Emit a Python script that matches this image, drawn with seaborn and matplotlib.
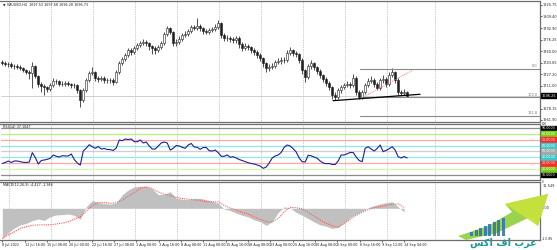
import numpy as np
import matplotlib
matplotlib.use("Agg")
import matplotlib.pyplot as plt
import seaborn as sns
from matplotlib.patches import Polygon, Rectangle

# ---------------- data ----------------
chart_title = "\u25bc XAUUSD,H4  1697.53 1697.68 1696.28 1696.73"
rsi_title = "RSI(14) 37.1047"
macd_title = "MACD(12,26,9) -4.427 -1.946"

first_open = 1745.0
close = [1743.1, 1741.7, 1741.7, 1738.8, 1738.8, 1737.4, 1736.0, 1733.1, 1730.3, 1728.9,
         1738.8, 1724.6, 1713.2, 1710.3, 1708.9, 1706.1, 1711.8, 1717.4, 1717.4, 1713.2,
         1713.2, 1714.6, 1713.2, 1711.8, 1711.8, 1704.6, 1690.4, 1704.6, 1718.9, 1728.9,
         1730.3, 1721.7, 1720.3, 1721.7, 1718.9, 1718.9, 1718.9, 1716.0, 1730.3, 1743.1,
         1748.8, 1754.5, 1761.6, 1758.8, 1764.5, 1768.7, 1771.6, 1773.0, 1771.6, 1767.3,
         1764.5, 1761.6, 1765.9, 1771.6, 1784.4, 1793.0, 1787.3, 1771.6, 1773.0, 1777.3,
         1783.0, 1784.4, 1788.7, 1794.4, 1793.0, 1795.8, 1793.0, 1788.7, 1787.3, 1790.1,
         1791.5, 1794.4, 1800.1, 1783.0, 1778.7, 1778.7, 1777.3, 1775.9, 1778.7, 1770.2,
         1764.5, 1767.3, 1765.9, 1761.6, 1758.8, 1754.5, 1750.2, 1743.1, 1736.0, 1737.4,
         1738.8, 1744.5, 1745.9, 1747.4, 1747.4, 1757.3, 1761.6, 1757.3, 1755.9, 1747.4,
         1733.1, 1723.1, 1738.8, 1743.1, 1737.4, 1731.7, 1726.0, 1720.3, 1714.6, 1708.9,
         1697.5, 1694.6, 1704.6, 1708.9, 1711.8, 1713.2, 1711.8, 1721.7, 1701.8, 1694.6,
         1701.8, 1711.8, 1717.4, 1718.9, 1713.2, 1707.5, 1718.9, 1720.3, 1713.2, 1726.0,
         1730.3, 1718.9, 1701.8, 1700.4, 1701.8, 1696.5]
high = [1748, 1746, 1745, 1744, 1742, 1741, 1740, 1738, 1735, 1733,
        1745, 1740, 1726, 1716, 1713, 1711, 1714, 1721, 1720, 1719,
        1717, 1718, 1717, 1715, 1714, 1713, 1706, 1707, 1721, 1732,
        1738, 1732, 1725, 1725, 1724, 1722, 1722, 1721, 1733, 1746,
        1752, 1758, 1765, 1764, 1768, 1772, 1775, 1777, 1776, 1773,
        1769, 1767, 1769, 1775, 1787, 1796, 1795, 1789, 1777, 1781,
        1786, 1788, 1792, 1797, 1797, 1807, 1799, 1795, 1792, 1793,
        1795, 1798, 1804, 1802, 1786, 1783, 1782, 1780, 1782, 1781,
        1773, 1771, 1770, 1768, 1764, 1761, 1757, 1752, 1745, 1742,
        1743, 1748, 1750, 1751, 1751, 1762, 1766, 1763, 1760, 1758,
        1750, 1735, 1742, 1747, 1745, 1739, 1734, 1728, 1723, 1717,
        1711, 1702, 1708, 1712, 1715, 1717, 1716, 1727, 1724, 1704,
        1705, 1715, 1721, 1724, 1721, 1716, 1722, 1726, 1723, 1730,
        1736, 1732, 1721, 1705, 1706, 1703]
low = [1740, 1739, 1738, 1736, 1735, 1734, 1733, 1730, 1727, 1720,
       1708, 1721, 1709, 1702, 1698, 1702, 1703, 1709, 1713, 1710,
       1710, 1711, 1710, 1708, 1707, 1700, 1681, 1688, 1702, 1716,
       1726, 1718, 1716, 1717, 1715, 1715, 1714, 1712, 1714, 1728,
       1740, 1746, 1752, 1755, 1756, 1762, 1766, 1769, 1768, 1762,
       1756, 1756, 1759, 1763, 1769, 1781, 1784, 1768, 1768, 1770,
       1775, 1780, 1781, 1786, 1790, 1790, 1789, 1785, 1784, 1784,
       1787, 1789, 1792, 1779, 1774, 1775, 1773, 1772, 1772, 1765,
       1760, 1761, 1762, 1757, 1754, 1750, 1746, 1738, 1730, 1732,
       1734, 1736, 1742, 1742, 1743, 1745, 1754, 1753, 1752, 1743,
       1728, 1716, 1720, 1735, 1733, 1727, 1722, 1716, 1710, 1704,
       1692, 1690, 1692, 1701, 1706, 1709, 1708, 1709, 1698, 1692,
       1692, 1699, 1709, 1714, 1709, 1704, 1705, 1715, 1709, 1711,
       1723, 1714, 1697, 1697, 1698, 1694]

rsi = [29.7, 31.4, 33.9, 31.4, 33.9, 33.9, 32.7, 31.7, 31.4, 32.2,
       48.0, 39.8, 28.8, 34.7, 35.6, 36.8, 38.5, 44.1, 41.9, 40.7,
       42.9, 42.4, 42.4, 45.8, 36.4, 30.5, 27.1, 50.8, 55.9, 61.5,
       58.1, 55.4, 58.5, 54.2, 55.1, 53.4, 53.2, 51.7, 55.9, 69.5,
       68.3, 71.2, 70.3, 71.2, 66.6, 66.6, 69.5, 64.4, 66.1, 59.3,
       54.2, 54.2, 59.3, 64.4, 66.1, 64.4, 52.5, 55.4, 60.2, 59.3,
       57.1, 55.4, 61.0, 63.6, 57.6, 57.1, 53.7, 56.8, 56.8, 51.4,
       50.8, 52.5, 48.0, 41.9, 41.9, 44.1, 40.2, 41.2, 39.0, 36.4,
       34.7, 32.7, 31.0, 29.7, 28.8, 27.1, 25.4, 21.5, 23.7, 30.5,
       39.0, 42.4, 44.1, 48.3, 57.1, 61.0, 59.3, 54.7, 49.2, 39.0,
       32.7, 32.2, 43.7, 42.7, 40.7, 38.5, 33.9, 30.5, 29.3, 29.7,
       28.0, 28.0, 33.9, 44.1, 44.1, 46.3, 48.3, 48.3, 40.7, 34.7,
       32.7, 55.4, 58.1, 54.2, 50.8, 55.1, 61.0, 49.7, 52.0, 54.6,
       58.1, 52.5, 41.2, 39.0, 41.5, 39.0]

macd_hist = [-13.2, -10.7, -8.7, -7.3, -6.6, -5.4, -4.7, -5.3, -3.7, -2.9,
             -2.8, -2.5, -3.1, -4.8, 0.7, 3.4, 2.6, 2.1, 1.8, 2.5,
             5.9, 8.1, 9.4, 9.7, 9.7, 8.5, 6.0, 6.2, 7.3, 4.4,
             4.0, 3.8, 4.4, 4.4, 3.8, 3.1, 2.2, -0.3, -1.0, -2.1,
             -3.1, -3.8, -5.1, -5.9, -7.5, -5.9, -1.9, 0.7, 0.1, -1.8,
             -3.1, -4.5, -6.0, -7.3, -7.9, -8.9, -8.4, -6.3, -4.0, -2.5,
             -1.2, 0.3, 1.2, 1.9, 2.5, 2.9, 0.7, -1.6]
macd_signal = [-13.3, -11.7, -10.4, -8.8, -8.1, -7.5, -7.3, -7.3, -7.3, -6.9,
               -6.5, -5.9, -4.8, -3.7, -1.3, 1.2, 2.6, 2.5, 2.2, 2.5,
               3.7, 5.3, 6.9, 8.8, 9.4, 8.7, 7.2, 6.2, 5.6, 4.8,
               4.3, 4.0, 3.7, 3.4, 2.9, 2.9, 2.8, 1.3, 0.1, -0.7,
               -1.8, -2.6, -3.8, -4.8, -5.9, -6.0, -4.5, -1.5, 0.4, 0.3,
               -0.3, -1.8, -3.4, -5.1, -6.6, -7.6, -8.4, -6.6, -4.8, -3.1,
               -1.8, -0.6, 0.3, 0.7, 1.3, 1.8, 1.9, 0.4]

x_labels = ["8 Jul 2022", "12 Jul 16:00", "15 Jul 08:00", "20 Jul 00:00", "22 Jul 16:00",
            "27 Jul 08:00", "1 Aug 00:00", "3 Aug 16:00", "8 Aug 08:00", "11 Aug 00:00",
            "15 Aug 16:00", "18 Aug 08:00", "23 Aug 00:00", "25 Aug 16:00", "30 Aug 08:00",
            "2 Sep 00:00", "6 Sep 16:00", "9 Sep 12:00", "14 Sep 04:00"]
price_ticks = [1825.75, 1809.40, 1792.90, 1776.25, 1760.00, 1743.65, 1727.20, 1711.00,
               1678.15, 1661.90]
last_price = 1696.25
rsi_levels = [90, 80, 70, 60, 50, 40, 30, 20, 10]
macd_axis_labels = ["11.549", "0.00", "-13.95"]
fib_names = ["0.0", "100.0", "161.8"]
fib_prices = [1734.5, 1694.4, 1667.7]
fib_start = 119.3
support_x = [110.3, 139.3]
support_y = [1689.4, 1698.5]
channel_x = [119.7, 137.0]
channel_y = [1693.2, 1733.1]

# styles
rsi_line_cols = ["#8c8c8c", "#b8f07a", "#ffa8a8", "#8ee8e8", "#cfcfcf",
                 "#8ee8e8", "#ffa8a8", "#d2f7a8", "#8c8c8c"]
rsi_box_cols = ["#000000", "#7ccd1a", "#ff2a2a", "#3cc8c8", "#a8a8a8",
                "#3cc8c8", "#ff2a2a", "#7ccd1a", "#000000"]

# ---------------- figure ----------------
sns.set_style("white")
plt.rcParams["font.family"] = ["DejaVu Sans"]

W, H = 557, 250
fig = plt.figure(figsize=(W / 100, H / 100), dpi=100)
fig.patch.set_facecolor("white")


def fx(px):
    return px / W


def fy(py):
    return 1 - py / H


left = fx(0.5)
width = fx(540) - left
XMIN, XMAX = -0.6, 179.3
AX_FS = 2.5

ax1 = fig.add_axes([left, fy(122), width, fy(1) - fy(122)])
ax2 = fig.add_axes([left, fy(180), width, fy(124) - fy(180)])
ax3 = fig.add_axes([left, fy(240), width, fy(182) - fy(240)])

n = len(close)
idx = np.arange(n)
opens = np.array([first_open] + close[:-1])
cl = np.array(close)
hi = np.array(high)
lo = np.array(low)

grid_pos = list(2.33 + 14 * np.arange(10)) + [144.3]

for ax in (ax1, ax2, ax3):
    ax.set_xlim(XMIN, XMAX)
    ax.set_facecolor("white")
    for s in ax.spines.values():
        s.set_color("#6e6e6e")
        s.set_linewidth(0.9)
    ax.spines["left"].set_visible(False)
    for g in grid_pos:
        ax.axvline(g, color="#9a9a9a", lw=0.5, ls=(0, (1, 1.5)), zorder=0)
    ax.tick_params(axis="x", bottom=False, labelbottom=False)

# ----- price panel -----
ax1.set_ylim(1659.0, 1831.45)
ax1.axhline(last_price, color="#d0d0d0", lw=0.7, zorder=1)
ax1.vlines(idx, lo, hi, color="#1e1e1e", lw=0.55, zorder=2)
bull = cl >= opens
body_h = np.where(np.abs(cl - opens) < 0.6, 0.6, cl - opens)
ax1.bar(idx[bull], body_h[bull], bottom=opens[bull], width=0.75, color="white",
        edgecolor="#1e1e1e", linewidth=0.4, zorder=3)
ax1.bar(idx[~bull], body_h[~bull], bottom=opens[~bull], width=0.75, color="#1e1e1e",
        edgecolor="#1e1e1e", linewidth=0.4, zorder=3)

for name, p in zip(fib_names, fib_prices):
    ax1.plot([fib_start, XMAX], [p, p], color="#8a8a8a", lw=0.8, zorder=2)
    ax1.text(XMAX - 0.8, p + 0.8, name, fontsize=2.5, color="#707070",
             ha="right", va="bottom", zorder=4)
ax1.plot(support_x, support_y, color="black", lw=0.9, zorder=4)
ax1.plot(channel_x, channel_y, color="#ff7a7a", lw=0.7, ls=(0, (1, 1)), zorder=4)

ax1.yaxis.tick_right()
ax1.set_yticks(price_ticks)
ax1.set_yticklabels([f"{v:.2f}" for v in price_ticks], fontsize=AX_FS, color="#202020")
ax1.tick_params(axis="y", length=1.2, width=0.5, pad=1.0, colors="#202020")
ax1.text(0.004, 0.99, chart_title, transform=ax1.transAxes, fontsize=2.4,
         va="top", ha="left", color="#202020")
ax1.text(1.003, last_price, f"{last_price:.2f}",
         transform=ax1.get_yaxis_transform(), fontsize=AX_FS, color="white",
         va="center", ha="left",
         bbox=dict(boxstyle="square,pad=0.15", fc="black", ec="black"), clip_on=False)

# ----- RSI panel -----
ax2.set_ylim(1.7, 96.6)
for lv, lc, bc in zip(rsi_levels, rsi_line_cols, rsi_box_cols):
    ax2.axhline(lv, color=lc, lw=0.9, zorder=1)
    ax2.text(1.003, lv, f"{lv:.4f}", transform=ax2.get_yaxis_transform(),
             fontsize=2.3, color="white", va="center", ha="left",
             bbox=dict(boxstyle="square,pad=0.1", fc=bc, ec=bc), clip_on=False)
sns.lineplot(x=idx, y=rsi, ax=ax2, color="#1f1f9a", lw=0.8, zorder=3)
ax2.set_yticks([])
ax2.set_ylabel("")
ax2.text(1.004, 1.0, "100", transform=ax2.transAxes, fontsize=2.0, va="center", ha="left")
ax2.text(1.004, 0.0, "0", transform=ax2.transAxes, fontsize=2.0, va="top", ha="left")
ax2.text(0.004, 0.985, rsi_title, transform=ax2.transAxes, fontsize=2.4,
         va="top", ha="left", color="#202020")

# ----- MACD panel -----
ax3.set_ylim(-13.95, 11.57)
m_idx = np.arange(len(macd_hist)) * 2
ax3.fill_between(m_idx, 0, macd_hist, color="#c0c0c0", linewidth=0, zorder=2)
sns.lineplot(x=m_idx, y=macd_signal, ax=ax3, color="#ff5a5a", lw=0.8,
             linestyle=(0, (1, 1)), zorder=3)
ax3.set_ylabel("")
ax3.set_yticks([])
ax3.text(1.004, 0.96, macd_axis_labels[0], transform=ax3.transAxes, fontsize=AX_FS,
         va="top", ha="left")
ax3.text(1.004, 0.0, macd_axis_labels[1], transform=ax3.get_yaxis_transform(),
         fontsize=AX_FS, va="center", ha="left")
ax3.text(1.004, 0.02, macd_axis_labels[2], transform=ax3.transAxes, fontsize=AX_FS,
         va="center", ha="left")
ax3.text(0.004, 0.985, macd_title, transform=ax3.transAxes, fontsize=2.4,
         va="top", ha="left", color="#202020")

tick_pos = np.arange(len(x_labels)) * 7.45
ax3.set_xticks(tick_pos)
ax3.set_xticklabels(x_labels, fontsize=2.4, ha="left", color="#202020")
ax3.tick_params(axis="x", bottom=True, labelbottom=True, length=1.2, width=0.5, pad=0.8)

# ----- logo (decoration) -----
def P(pts):
    return [(fx(a), fy(b)) for a, b in pts]


arrow = Polygon(P([(458, 236), (488, 226), (512, 212), (505, 204), (548, 194),
                   (538, 226), (530, 217), (497, 233), (466, 240)]),
                closed=True, transform=fig.transFigure, fc="#8fcf3c", ec="none",
                alpha=0.9, zorder=10)
fig.patches.append(arrow)
head = Polygon(P([(505, 204), (548, 194), (538, 226)]), closed=True,
               transform=fig.transFigure, fc="#c9e23a", ec="none", alpha=0.9, zorder=11)
fig.patches.append(head)
for k, hgt in enumerate([4, 6, 8, 10, 12, 14, 16, 18]):
    x0 = 470 + k * 4.5
    fig.patches.append(Rectangle((fx(x0), fy(236)), fx(3), hgt / H,
                                 transform=fig.transFigure, fc="#2d6fb8",
                                 ec="none", alpha=0.85, zorder=12))
fig.text(fx(503), fy(242.5), "\uFEB2\uFEDB\uFE8D \uFED1\uFE8D \uFE8F\uFEAE\uFECB",
         fontsize=7, color="#1d9a9a", ha="center", va="center",
         fontweight="bold", zorder=13)

fig.savefig("out.png", dpi=100, facecolor="white")
